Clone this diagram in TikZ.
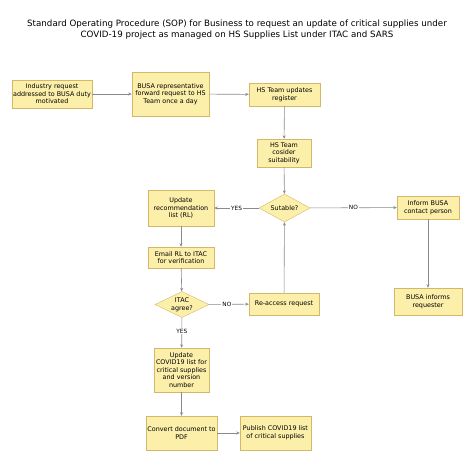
\documentclass[tikz,border=0pt]{standalone}
\usepackage{fontspec}
\setmainfont{DejaVu Sans}
\usetikzlibrary{shapes.geometric,arrows.meta}
\definecolor{jaune}{HTML}{FCEFAA}
\definecolor{bord}{HTML}{D2B868}
\definecolor{trait}{HTML}{8A8A8A}
\begin{document}
\begin{tikzpicture}[x=1pt,y=-1pt]
\tikzset{boite/.style={draw=bord, fill=jaune, align=center, font=\fontsize{6.4}{7.6}\selectfont, inner sep=1pt},
losange/.style={draw=bord, fill=jaune, diamond, align=center, font=\fontsize{6.4}{7.6}\selectfont, inner sep=0.5pt, aspect=2},
fleche/.style={draw=trait, line width=0.6pt, -{Stealth[length=3.5pt,width=3pt]}},
etiq/.style={fill=white, font=\fontsize{5.8}{6.5}\selectfont, inner sep=1pt}}
\useasboundingbox (0,0) rectangle (474,462);
\node[font=\fontsize{8.7}{11.5}\selectfont, align=center] (titre) at (237,29.5) {Standard Operating Procedure (SOP) for Business to request an update of critical supplies under\\COVID-19 project as managed on HS Supplies List under ITAC and SARS};
\node[boite, minimum width=80pt, minimum height=28pt] (A) at (52,94) {Industry request\\addressed to BUSA duty\\motivated};
\node[boite, minimum width=77pt, minimum height=44pt] (B) at (170.5,94) {BUSA representative\\forward request to HS\\Team once a day};
\node[boite, minimum width=71pt, minimum height=23pt] (C) at (284.5,94.5) {HS Team updates\\register};
\node[boite, minimum width=54pt, minimum height=28pt] (D) at (284,153) {HS Team\\cosider\\suitability};
\node[losange, minimum width=51pt, minimum height=28pt] (S) at (284.5,208) {Sutable?};
\node[boite, minimum width=66pt, minimum height=36pt] (RL) at (181,208) {Update\\recommendation\\list (RL)};
\node[boite, minimum width=66pt, minimum height=21pt] (E) at (181,257.5) {Email RL to ITAC\\for verification};
\node[losange, minimum width=54pt, minimum height=22pt] (I) at (182,304.5) {ITAC\\agree?};
\node[boite, minimum width=70pt, minimum height=22pt] (R) at (284,304) {Re-access request};
\node[boite, minimum width=62pt, minimum height=23pt] (F) at (428,207.5) {Inform BUSA\\contact person};
\node[boite, minimum width=68pt, minimum height=27pt] (G) at (428,301.5) {BUSA informs\\requester};
\node[boite, minimum width=55pt, minimum height=44pt] (U) at (181.5,370) {Update\\COVID19 list for\\critical supplies\\and version\\number};
\node[boite, minimum width=71pt, minimum height=34pt] (P) at (181.5,433) {Convert document to\\PDF};
\node[boite, minimum width=71pt, minimum height=34pt] (Q) at (275.5,433) {Publish COVID19 list\\of critical supplies};
\draw[fleche] (A) -- (B);
\draw[fleche] (B) -- (C);
\draw[fleche] (C) -- (D);
\draw[fleche] (D) -- (S);
\draw[fleche] (S) -- node[etiq] {YES} (RL);
\draw[fleche] (S) -- node[etiq] {NO} (F);
\draw[fleche] (F) -- (G);
\draw[fleche] (RL) -- (E);
\draw[fleche] (E) -- (I);
\draw[fleche] (I) -- node[etiq, pos=0.45] {NO} (R);
\draw[fleche] (R) -- (S);
\draw[fleche] (I) -- node[etiq, pos=0.45] {YES} (U);
\draw[fleche] (U) -- (P);
\draw[fleche] (P) -- (Q);
\end{tikzpicture}
\end{document}
